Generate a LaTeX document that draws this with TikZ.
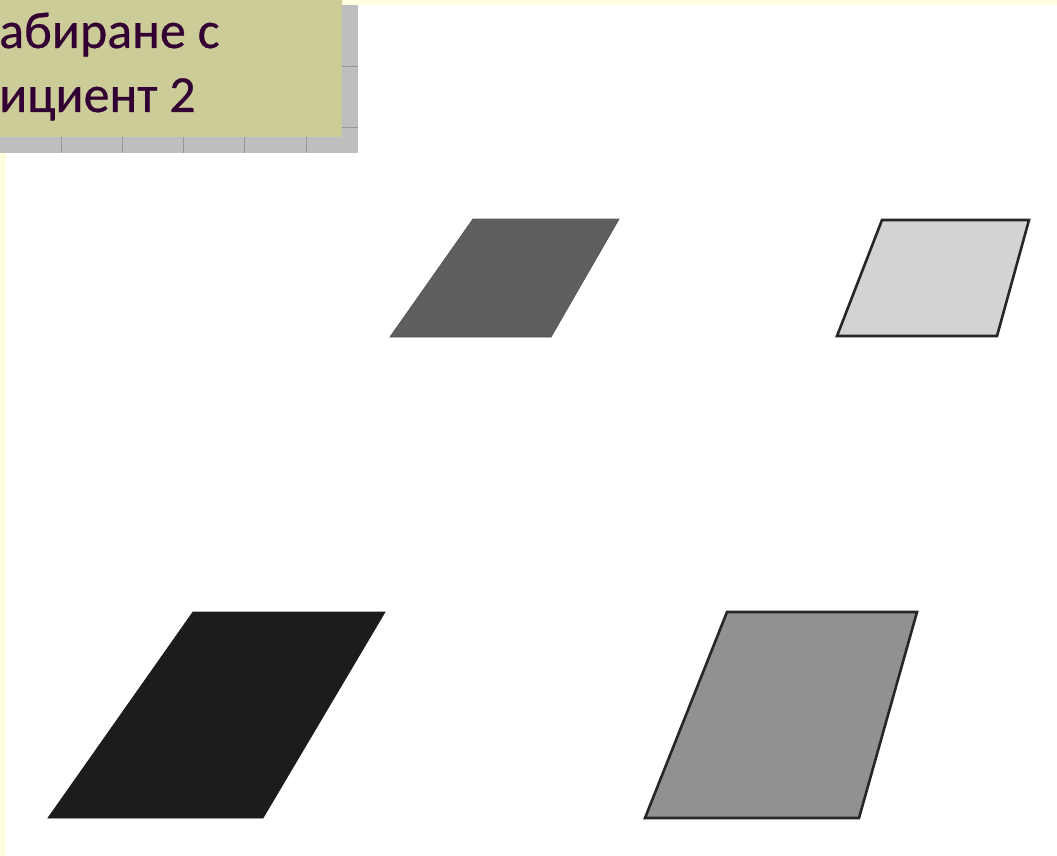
\documentclass[tikz,border=0pt]{standalone}
\usepackage{fontspec}
\setmainfont{Carlito}
\newfontfamily\titlefont{Carlito}[FakeBold=0.5]
\definecolor{titlebg}{RGB}{204,204,153}
\definecolor{titletext}{RGB}{51,0,51}
\definecolor{paleyellow}{RGB}{255,255,224}
\definecolor{gridgray}{RGB}{190,190,190}
\definecolor{gridline}{RGB}{150,150,150}
\tikzset{
  titleline/.style={anchor=base west, inner sep=0pt, text=titletext, font=\titlefont\fontsize{52}{62}\selectfont},
  plain/.style={line width=0.8pt},
  outlined/.style={draw=black!85, line width=2.6pt, line join=miter}
}
\begin{document}
\begin{tikzpicture}[x=1pt,y=-1pt]
    \useasboundingbox (0,0) rectangle (1057,856);
    \fill[white] (0,0) rectangle (1057,856);

    % pale yellow edges of the slide
    \fill[paleyellow] (342,0) rectangle (1057,5);
    \fill[paleyellow] (0,153) rectangle (6,856);

    % grid behind the title box
    \fill[gridgray] (0,5) rectangle (358,153);
    \foreach \x in {61,122,183,244,306}
        \draw[gridline, line width=0.8pt] (\x,5) -- (\x,153);
    \foreach \y in {66,127}
        \draw[gridline, line width=0.8pt] (0,\y) -- (358,\y);

    % title box
    \fill[titlebg] (0,0) rectangle (342,137);
    \node[titleline] (title1) at (-1,48) {абиране с};
    \node[titleline] (title2) at (-1,112) {ициент 2};

    % upper row
    \filldraw[fill={rgb,255:red,95;green,95;blue,95}, draw={rgb,255:red,85;green,85;blue,85}, plain]
        (473,219) -- (619,219) -- (551,337) -- (390,337) -- cycle;
    \filldraw[fill={rgb,255:red,211;green,211;blue,211}, outlined]
        (882,220) -- (1029,220) -- (997,336) -- (837,336) -- cycle;

    % lower row: scaled by 2
    \filldraw[fill={rgb,255:red,28;green,28;blue,28}, draw={rgb,255:red,28;green,28;blue,28}, plain]
        (193,612) -- (385,612) -- (263,818) -- (48,818) -- cycle;
    \filldraw[fill={rgb,255:red,145;green,145;blue,145}, outlined]
        (727,612) -- (917,612) -- (859,818) -- (645,818) -- cycle;
\end{tikzpicture}
\end{document}
